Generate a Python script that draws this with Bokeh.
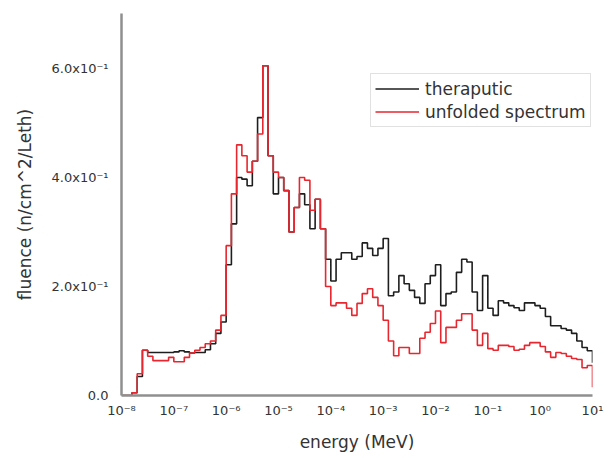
from bokeh.plotting import figure
from bokeh.models import Range1d, FixedTicker, CustomJSTickFormatter, Legend, LegendItem
from bokeh.embed import file_html
from bokeh.resources import INLINE

# ---- data -------------------------------------------------------------
# bin edges: 10 equal-lethargy bins per decade from 1e-8 to 1e1 MeV
edge_exponents = [k / 10 for k in range(-80, 11)]
energy_edges = [10 ** e for e in edge_exponents]

theraputic = [
    0.000, 0.000, 0.005, 0.035, 0.083, 0.079, 0.079, 0.079, 0.079, 0.079,
    0.080, 0.082, 0.080, 0.078, 0.079, 0.079, 0.084, 0.095, 0.114, 0.135,
    0.240, 0.315, 0.400, 0.397, 0.385, 0.430, 0.510, 0.605, 0.440, 0.370,
    0.400, 0.376, 0.300, 0.345, 0.370, 0.350, 0.306, 0.360, 0.306, 0.250,
    0.210, 0.250, 0.262, 0.262, 0.250, 0.255, 0.280, 0.270, 0.257, 0.270,
    0.288, 0.183, 0.190, 0.220, 0.205, 0.193, 0.180, 0.169, 0.205, 0.220,
    0.240, 0.165, 0.187, 0.190, 0.226, 0.250, 0.245, 0.190, 0.156, 0.220,
    0.160, 0.147, 0.174, 0.170, 0.165, 0.161, 0.156, 0.170, 0.170, 0.165,
    0.160, 0.145, 0.128, 0.128, 0.123, 0.120, 0.114, 0.100, 0.088, 0.082,
]
theraputic_end = 0.060

unfolded = [
    0.000, 0.000, 0.005, 0.040, 0.083, 0.072, 0.064, 0.064, 0.064, 0.070,
    0.062, 0.062, 0.070, 0.078, 0.083, 0.088, 0.095, 0.100, 0.120, 0.147,
    0.275, 0.370, 0.460, 0.440, 0.410, 0.430, 0.480, 0.605, 0.440, 0.410,
    0.400, 0.376, 0.300, 0.345, 0.400, 0.395, 0.340, 0.360, 0.306, 0.200,
    0.165, 0.170, 0.170, 0.160, 0.147, 0.169, 0.187, 0.196, 0.180, 0.165,
    0.138, 0.100, 0.073, 0.088, 0.088, 0.077, 0.077, 0.105, 0.116, 0.132,
    0.155, 0.097, 0.125, 0.125, 0.138, 0.150, 0.150, 0.120, 0.092, 0.114,
    0.086, 0.083, 0.092, 0.092, 0.090, 0.083, 0.085, 0.092, 0.097, 0.097,
    0.090, 0.080, 0.070, 0.079, 0.077, 0.072, 0.068, 0.066, 0.051, 0.055,
]
unfolded_end = 0.015

x_ticks = [1e-8, 1e-7, 1e-6, 1e-5, 1e-4, 1e-3, 1e-2, 1e-1, 1e0, 1e1]
x_tick_labels = ["10\u207b\u2078", "10\u207b\u2077", "10\u207b\u2076", "10\u207b\u2075",
                 "10\u207b\u2074", "10\u207b\u00b3", "10\u207b\u00b2", "10\u207b\u00b9",
                 "10\u2070", "10\u00b9"]
y_ticks = [0.0, 0.2, 0.4, 0.6]
y_tick_labels = ["0.0", "2.0x10\u207b\u00b9", "4.0x10\u207b\u00b9", "6.0x10\u207b\u00b9"]

series_names = ["theraputic", "unfolded spectrum"]

# ---- figure -----------------------------------------------------------
FONT = "DejaVu Sans"
TXT = "#333333"
AX = "#8f8f8f"

p = figure(frame_width=471, frame_height=382,
           x_axis_type="log",
           x_range=Range1d(1e-8, 1e1), y_range=Range1d(0, 0.701),
           output_backend="svg", toolbar_location=None,
           min_border_left=121, min_border_right=13,
           min_border_top=13, min_border_bottom=63)
p.outline_line_color = None
p.xgrid.visible = False
p.ygrid.visible = False
p.background_fill_color = "white"
p.border_fill_color = "white"

r_black = p.step(x=energy_edges, y=theraputic + [theraputic_end], mode="after",
                 line_color="#1e1e1e", line_width=1.6)
r_red = p.step(x=energy_edges, y=unfolded + [unfolded_end], mode="after",
               line_color="#e8262f", line_width=1.6)

fmt_code = """
for (let i = 0; i < ticks_v.length; i++) {
  if (Math.abs(tick - ticks_v[i]) <= 1e-9 * Math.max(1e-12, Math.abs(ticks_v[i])) + 1e-15) {
    return labels[i];
  }
}
return "";
"""

xa = p.xaxis[0]
xa.ticker = FixedTicker(ticks=x_ticks, minor_ticks=[])
xa.formatter = CustomJSTickFormatter(args=dict(ticks_v=x_ticks, labels=x_tick_labels), code=fmt_code)
xa.axis_label = "energy (MeV)"

ya = p.yaxis[0]
ya.ticker = FixedTicker(ticks=y_ticks, minor_ticks=[])
ya.formatter = CustomJSTickFormatter(args=dict(ticks_v=y_ticks, labels=y_tick_labels), code=fmt_code)
ya.axis_label = "fluence (n/cm^2/Leth)"

for ax in (xa, ya):
    ax.axis_line_color = AX
    ax.axis_line_width = 2.5
    ax.major_tick_line_color = None
    ax.minor_tick_line_color = None
    ax.major_tick_in = 0
    ax.major_tick_out = 0
    ax.minor_tick_in = 0
    ax.minor_tick_out = 0
    ax.major_label_text_font = FONT
    ax.major_label_text_color = TXT
    ax.axis_label_text_font = FONT
    ax.axis_label_text_font_style = "normal"
    ax.axis_label_text_color = TXT
    ax.axis_label_text_font_size = "17px"

xa.major_label_text_font_size = "13px"
xa.major_label_standoff = 7
xa.axis_label_standoff = 11
ya.major_label_text_font_size = "13px"
ya.major_label_standoff = 13
ya.axis_label_standoff = 14

legend = Legend(items=[LegendItem(label=series_names[0], renderers=[r_black]),
                       LegendItem(label=series_names[1], renderers=[r_red])],
                location=(249, 268))
legend.label_text_font = FONT
legend.label_text_font_size = "17px"
legend.label_text_color = TXT
legend.glyph_width = 44
legend.glyph_height = 21
legend.label_height = 21
legend.label_standoff = 6
legend.padding = 4
legend.spacing = 2
legend.margin = 0
legend.border_line_color = "#c4c4c4"
legend.border_line_width = 1
legend.background_fill_color = "white"
legend.background_fill_alpha = 1.0
p.add_layout(legend)

open("out.html", "w").write(file_html(p, INLINE))
